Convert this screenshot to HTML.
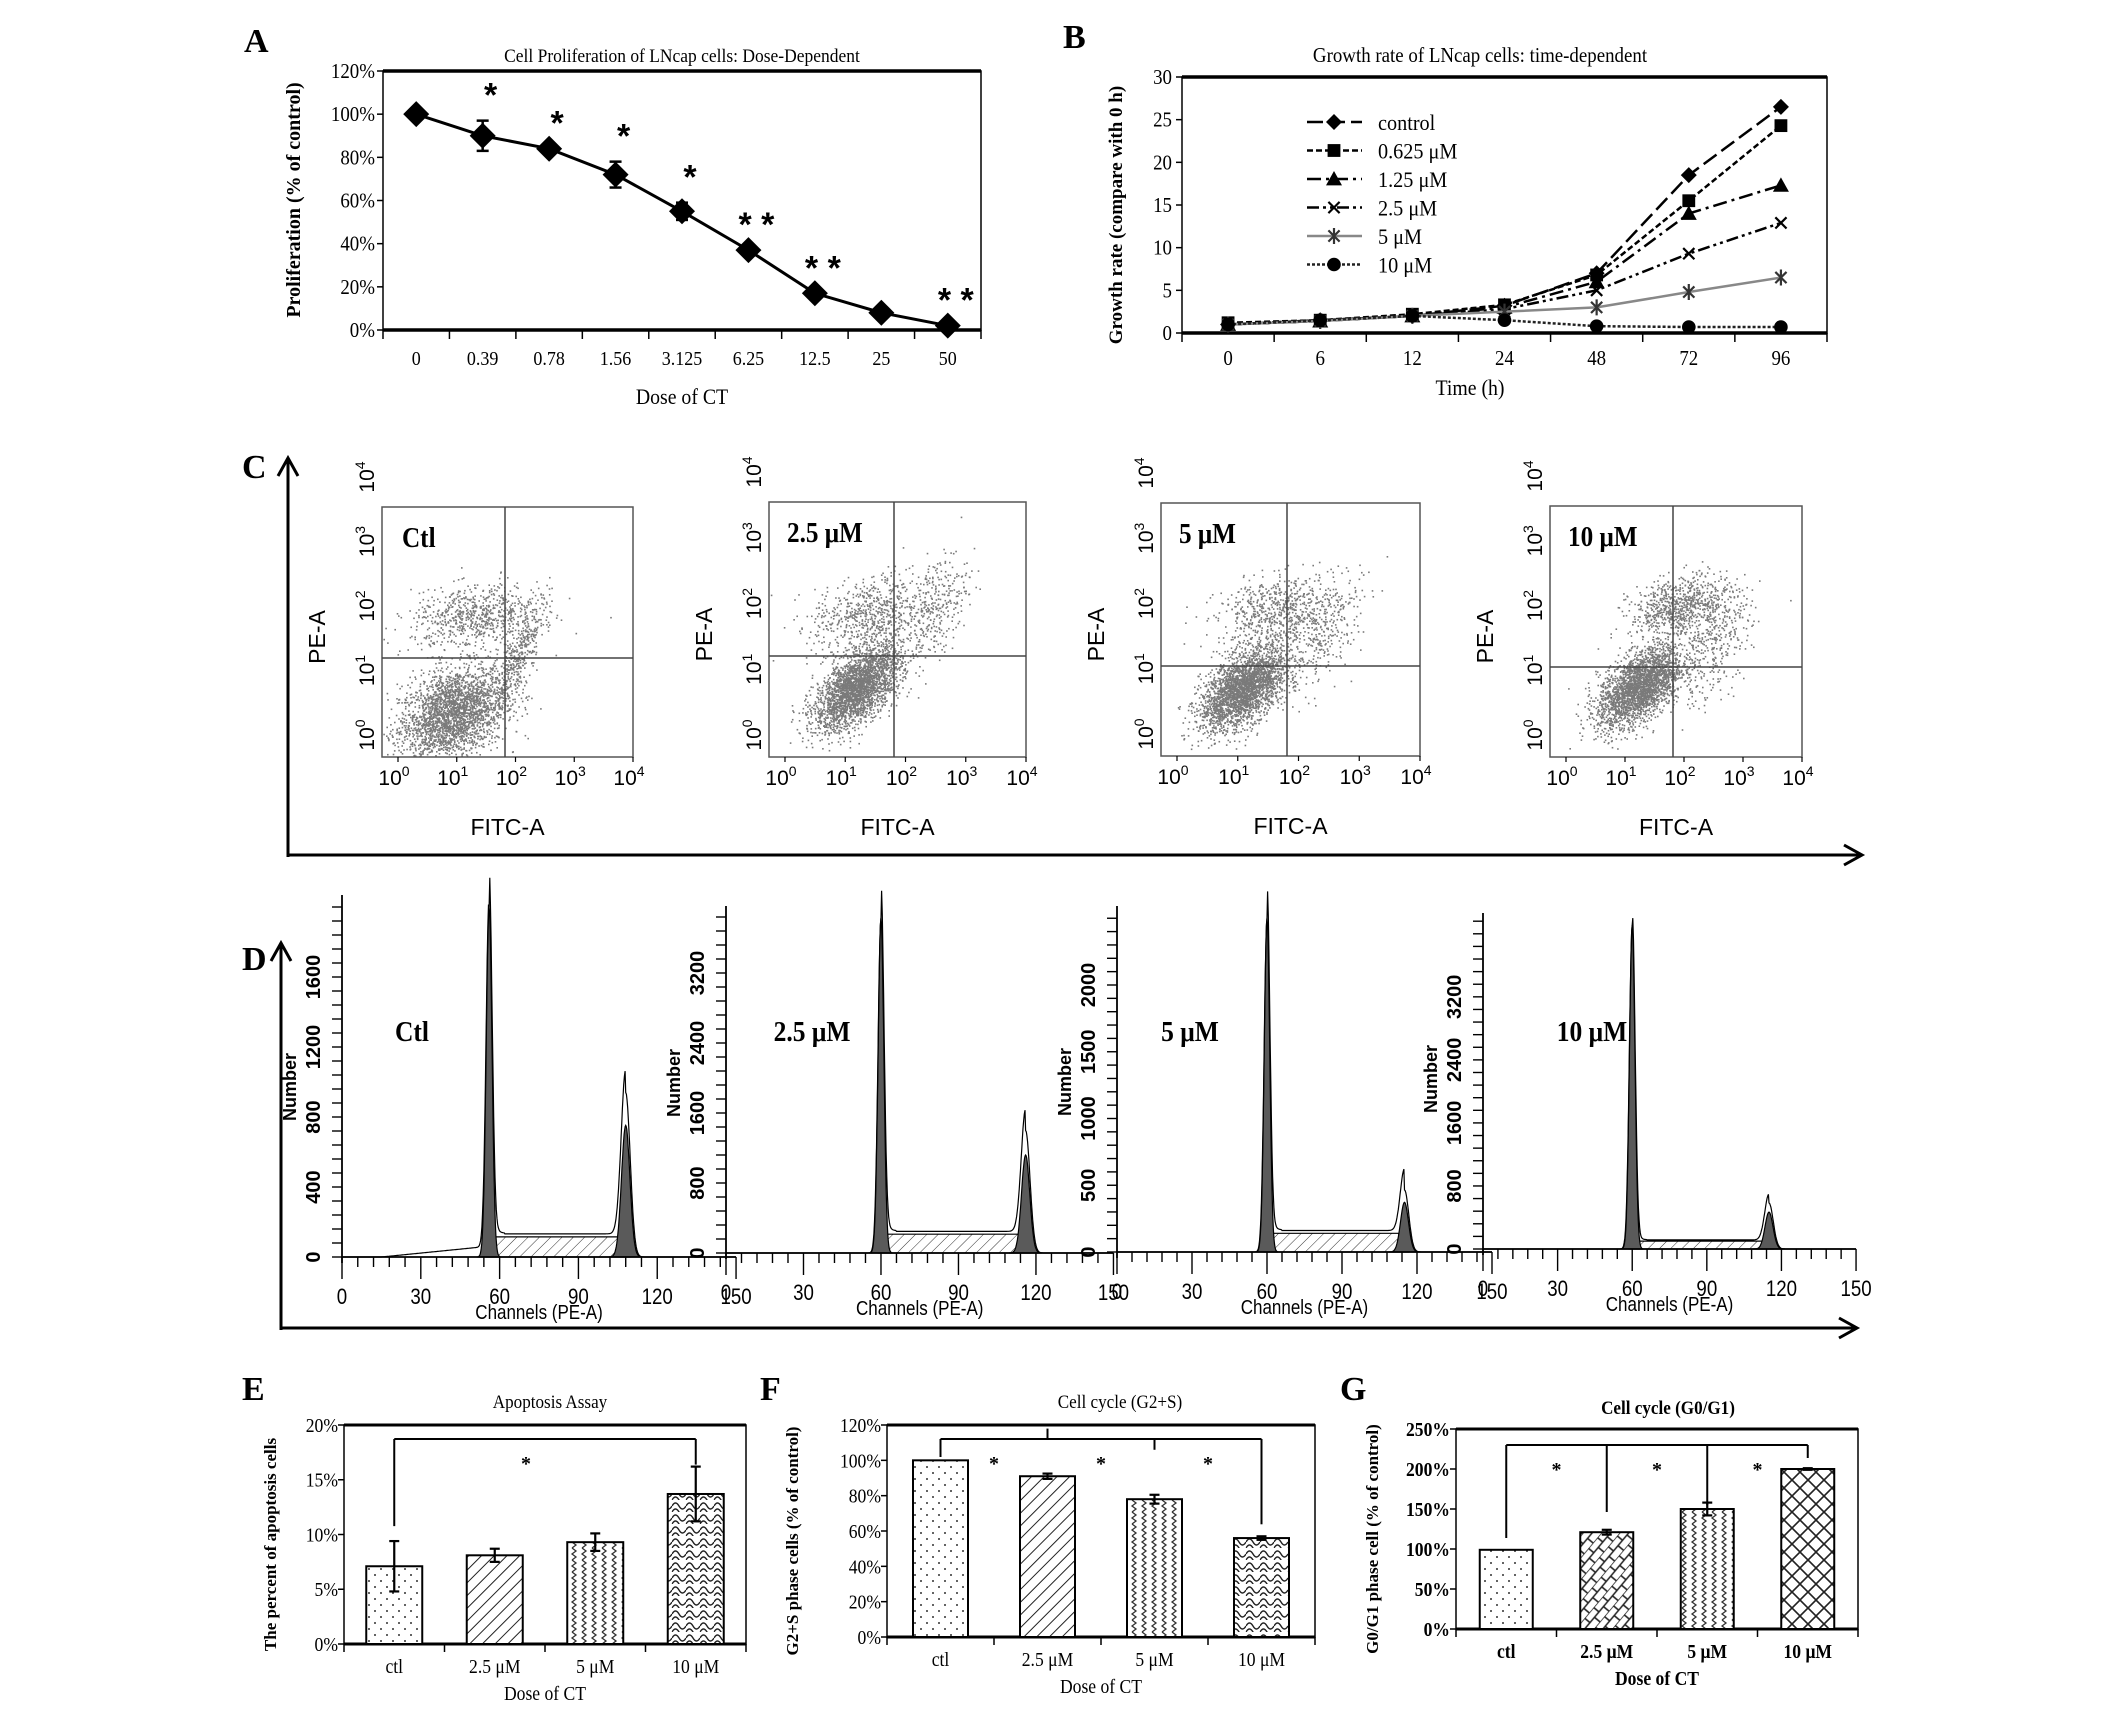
<!DOCTYPE html>
<html><head><meta charset="utf-8">
<style>
html,body{margin:0;padding:0;background:#fff;}
svg{display:block;}
</style></head>
<body>
<svg id="fig" xmlns="http://www.w3.org/2000/svg" width="2126" height="1720" viewBox="0 0 2126 1720">
<defs>
<pattern id="pDots" width="12" height="12" patternUnits="userSpaceOnUse"><rect width="12" height="12" fill="#fff"/><circle cx="3" cy="3" r="1" fill="#333"/><circle cx="9" cy="9" r="1" fill="#333"/></pattern>
<pattern id="pHatch" width="9" height="9" patternUnits="userSpaceOnUse" patternTransform="rotate(45)"><rect width="9" height="9" fill="#fff"/><line x1="0" y1="0" x2="0" y2="9" stroke="#222" stroke-width="2"/></pattern>
<pattern id="pWave" width="10" height="12" patternUnits="userSpaceOnUse"><rect width="10" height="12" fill="#fff"/><path d="M2 0 L6 3 L2 6 L6 9 L2 12" fill="none" stroke="#333" stroke-width="1.3"/></pattern>
<pattern id="pScale" width="14" height="12" patternUnits="userSpaceOnUse"><rect width="14" height="12" fill="#fff"/><path d="M0 6 Q3.5 0 7 6 T14 6 M0 12 Q3.5 6 7 12 T14 12" fill="none" stroke="#222" stroke-width="1.4"/></pattern>
<pattern id="pBrick" width="14" height="14" patternUnits="userSpaceOnUse" patternTransform="rotate(-50)"><rect width="14" height="14" fill="#fff"/><path d="M0 0 H14 M0 7 H14 M3 0 V7 M10 7 V14" stroke="#222" stroke-width="1.6"/></pattern>
<pattern id="pDiamond" width="16" height="16" patternUnits="userSpaceOnUse"><rect width="16" height="16" fill="#fff"/><path d="M0 8 L8 0 L16 8 L8 16 Z" fill="none" stroke="#222" stroke-width="1.6"/></pattern>
<pattern id="pSHatch" width="8" height="8" patternUnits="userSpaceOnUse" patternTransform="rotate(45)"><rect width="8" height="8" fill="#fff"/><line x1="0" y1="0" x2="0" y2="8" stroke="#333" stroke-width="1"/></pattern>
</defs>
</svg>
<script>
const NS='http://www.w3.org/2000/svg';
const svg=document.getElementById('fig');
const SERIF='"Liberation Serif", serif';
const SANS='"Liberation Sans", sans-serif';

/* ---------- Panel A data ---------- */
const aCats=['0','0.39','0.78','1.56','3.125','6.25','12.5','25','50'];
const aVals=[100,90,84,72,55,37,17,8,2];
const aErr=[0,7,0,6,4,0,0,0,0];
const aStars=['','*','*','*','*','**','**','','**'];
const aTicks=[0,20,40,60,80,100,120];

/* ---------- Panel B data ---------- */
const bCats=['0','6','12','24','48','72','96'];
const bSeriesNames=['control','0.625 μM','1.25 μM','2.5 μM','5 μM','10 μM'];
const bControl=[1,1.5,2,3.2,7,18.5,26.5];
const b0625=[1.2,1.5,2.2,3.3,6.8,15.5,24.3];
const b125=[1,1.4,2,3,6,14,17.3];
const b25=[1,1.4,2,2.8,5,9.3,12.9];
const b5=[1,1.4,2,2.5,3,4.8,6.5];
const b10=[1,1.5,2,1.5,0.8,0.7,0.7];
const bTicks=[0,5,10,15,20,25,30];

/* ---------- Panel C data (cluster centres in log decades) ---------- */
const cLabels=['Ctl','2.5 μM','5 μM','10 μM'];
const cCtl=[[0.85,0.35,0.42,0.38,2600,0.35],[1.2,1.9,0.5,0.25,700,0.2],[1.9,1.3,0.2,0.45,400,0.8]];
const c25=[[1.1,0.75,0.33,0.33,2700,0.6],[1.3,1.9,0.45,0.3,650,0.3],[2.3,2.0,0.25,0.45,300,0.5]];
const c5=[[1.0,0.72,0.33,0.32,2700,0.55],[1.5,1.95,0.45,0.28,650,0.3],[2.2,1.6,0.3,0.45,300,0.5]];
const c10=[[1.15,0.78,0.33,0.32,2600,0.55],[1.8,2.05,0.4,0.25,800,0.3],[2.3,1.4,0.3,0.45,300,0.5]];

/* ---------- Panel D data ---------- */
const dLabels=['Ctl','2.5 μM','5 μM','10 μM'];
const dG1Ch=[56,60,60,60];
const dG1Count=[2000,3830,2500,4110];
const dG2Ch=[108,116,115,115];
const dG2Count=[940,1400,465,585];
const dSCount=[115,215,140,100];
const dYTicks=[[0,400,800,1200,1600],[0,800,1600,2400,3200],[0,500,1000,1500,2000],[0,800,1600,2400,3200]];
const dXTicks=[0,30,60,90,120,150];

/* ---------- Panel E/F/G data ---------- */
const eCats=['ctl','2.5 μM','5 μM','10 μM'];
const eVals=[7.1,8.1,9.3,13.7];
const eErr=[2.3,0.6,0.8,2.5];
const eTicks=[0,5,10,15,20];
const fVals=[100,91,78,56];
const fErr=[0,1.5,2.5,1];
const fTicks=[0,20,40,60,80,100,120];
const gVals=[99,121,150,200];
const gErr=[0,3,8,1];
const gTicks=[0,50,100,150,200,250];

/* ---------- helpers ---------- */
function el(tag,attrs,name,parent){
  const e=document.createElementNS(NS,tag);
  for(const k in attrs) e.setAttribute(k,attrs[k]);
  
  
  (parent||svg).appendChild(e);
  return e;
}
function ln(x1,y1,x2,y2,w,name,extra){
  const a={x1:x1,y1:y1,x2:x2,y2:y2,stroke:'#000','stroke-width':w||1.5};
  if(extra) Object.assign(a,extra);
  return el('line',a,name);
}
function tx(x,y,s,size,name,opt){
  opt=opt||{};
  const a={x:x,y:y,'font-size':size,'font-family':opt.font||SERIF,'text-anchor':opt.anchor||'middle',fill:opt.fill||'#000'};
  if(opt.weight) a['font-weight']=opt.weight;
  if(opt.rot) a.transform='rotate('+opt.rot+' '+x+' '+y+')';
  if(opt.sx) a.transform=(a.transform||'')+' translate('+x+' '+y+') scale('+opt.sx+' 1) translate('+(-x)+' '+(-y)+')';
  const t=el('text',a,name);
  t.textContent=s;
  return t;
}
function marker(type,x,y,s,name,col){
  col=col||'#000';
  if(type==='diamond') return el('path',{d:`M${x} ${y-s}L${x+s} ${y}L${x} ${y+s}L${x-s} ${y}Z`,fill:col},name);
  if(type==='square') return el('rect',{x:x-s*0.8,y:y-s*0.8,width:s*1.6,height:s*1.6,fill:col},name);
  if(type==='triangle') return el('path',{d:`M${x} ${y-s}L${x+s} ${y+s*0.8}L${x-s} ${y+s*0.8}Z`,fill:col},name);
  if(type==='circle') return el('circle',{cx:x,cy:y,r:s*0.85,fill:col},name);
  if(type==='x') return el('path',{d:`M${x-s*0.7} ${y-s*0.7}L${x+s*0.7} ${y+s*0.7}M${x+s*0.7} ${y-s*0.7}L${x-s*0.7} ${y+s*0.7}`,stroke:col,'stroke-width':2.2,fill:'none'},name);
  if(type==='star') return el('path',{d:`M${x-s*0.7} ${y-s*0.7}L${x+s*0.7} ${y+s*0.7}M${x+s*0.7} ${y-s*0.7}L${x-s*0.7} ${y+s*0.7}M${x} ${y-s}L${x} ${y+s}`,stroke:col,'stroke-width':2.2,fill:'none'},name);
}

/* ---------- Panel labels ---------- */
[['A',244,52],['B',1063,48],['C',242,478],['D',242,970],['E',242,1400],['F',760,1400],['G',1340,1400]].forEach(p=>{
  tx(p[1],p[2],p[0],34,'panel-label-'+p[0].toLowerCase(),{weight:'bold',anchor:'start'});
});

/* ---------- Panel A ---------- */
(function(){
  const L=383,R=981,T=71,B=330;
  const bw=(R-L)/aCats.length;
  const xA=i=>L+bw*(i+0.5);
  const yA=v=>B-(v/120)*(B-T);
  el('rect',{x:L,y:T,width:R-L,height:B-T,fill:'none',stroke:'#000','stroke-width':1.5},'panel-a-plot-frame');
  ln(L,T,R,T,3.5,'panel-a-top-border');
  ln(L,B,R,B,3.5,'panel-a-x-axis');
  tx((L+R)/2,62,'Cell Proliferation of LNcap cells: Dose-Dependent',19,'panel-a-title',{sx:0.92});
  aTicks.forEach(v=>{
    ln(L-6,yA(v),L,yA(v),1.5,'panel-a-y-tick');
    tx(L-8,yA(v)+7,v+'%',21,'panel-a-y-tick-label',{anchor:'end',sx:0.9});
  });
  for(let k=0;k<=aCats.length;k++) ln(L+bw*k,B,L+bw*k,B+9,1.5,'panel-a-x-tick');
  aCats.forEach((c,i)=>tx(xA(i),365,c,20,'panel-a-x-tick-label',{sx:0.9}));
  tx((L+R)/2,404,'Dose of CT',22,'panel-a-x-axis-title',{sx:0.9});
  tx(300,200,'Proliferation (% of control)',20,'panel-a-y-axis-title',{rot:-90,weight:'bold'});
  const pts=aVals.map((v,i)=>xA(i)+','+yA(v)).join(' ');
  el('polyline',{points:pts,fill:'none',stroke:'#000','stroke-width':3},'panel-a-line');
  aVals.forEach((v,i)=>{
    if(aErr[i]>0){
      ln(xA(i),yA(v+aErr[i]),xA(i),yA(v-aErr[i]),2.5,'panel-a-error-bar');
      ln(xA(i)-6,yA(v+aErr[i]),xA(i)+6,yA(v+aErr[i]),2.5,'panel-a-error-cap');
      ln(xA(i)-6,yA(v-aErr[i]),xA(i)+6,yA(v-aErr[i]),2.5,'panel-a-error-cap');
    }
    marker('diamond',xA(i),yA(v),13,'panel-a-point');
    if(aStars[i]) tx(xA(i)+8,yA(v+aErr[i])-14,aStars[i].split('').join(' '),34,'panel-a-significance',{font:SANS,weight:'bold'});
  });
})();

/* ---------- Panel B ---------- */
(function(){
  const L=1182,R=1827,T=77,B=333;
  const bw=(R-L)/bCats.length;
  const xB=i=>L+bw*(i+0.5);
  const yB=v=>B-(v/30)*(B-T);
  el('rect',{x:L,y:T,width:R-L,height:B-T,fill:'none',stroke:'#000','stroke-width':1.5},'panel-b-plot-frame');
  ln(L,T,R,T,3.5,'panel-b-top-border');
  ln(L,B,R,B,3.5,'panel-b-x-axis');
  tx(1480,62,'Growth rate of LNcap cells:  time-dependent',21,'panel-b-title',{sx:0.9});
  bTicks.forEach(v=>{
    ln(L-6,yB(v),L,yB(v),1.5,'panel-b-y-tick');
    tx(L-10,yB(v)+7,String(v),21,'panel-b-y-tick-label',{anchor:'end',sx:0.9});
  });
  for(let k=0;k<=bCats.length;k++) ln(L+bw*k,B,L+bw*k,B+9,1.5,'panel-b-x-tick');
  bCats.forEach((c,i)=>tx(xB(i),365,c,21,'panel-b-x-tick-label',{sx:0.9}));
  tx(1470,395,'Time (h)',22,'panel-b-x-axis-title',{sx:0.9});
  tx(1122,215,'Growth rate (compare with 0 h)',19,'panel-b-y-axis-title',{rot:-90,weight:'bold'});
  const series=[bControl,b0625,b125,b25,b5,b10];
  const dashes=['16,6','6,3','14,5,3,5','12,4,3,4,3,4','none','3,2'];
  const cols=['#000','#000','#000','#000','#888','#222'];
  const marks=['diamond','square','triangle','x','star','circle'];
  series.forEach((s,si)=>{
    const a={points:s.map((v,i)=>xB(i)+','+yB(v)).join(' '),fill:'none',stroke:cols[si],'stroke-width':2.5};
    if(dashes[si]!=='none') a['stroke-dasharray']=dashes[si];
    el('polyline',a,'panel-b-line-'+si);
    s.forEach((v,i)=>marker(marks[si],xB(i),yB(v),8,'panel-b-point',si===4?'#333':'#000'));
    const ly=122+si*28.5;
    const la={x1:1307,y1:ly,x2:1362,y2:ly,stroke:cols[si],'stroke-width':2.5};
    if(dashes[si]!=='none') la['stroke-dasharray']=dashes[si];
    el('line',la,'panel-b-legend-line');
    marker(marks[si],1334,ly,8,'panel-b-legend-marker',si===4?'#333':'#000');
    tx(1378,ly+8,bSeriesNames[si],22,'panel-b-legend-label',{anchor:'start',sx:0.92});
  });
})();

/* ---------- Panel C ---------- */
let seed=12345;
function rnd(){seed=(seed*1103515245+12345)%2147483648;return seed/2147483648;}
function gauss(){let u=rnd()||1e-6,v=rnd();return Math.sqrt(-2*Math.log(u))*Math.cos(2*Math.PI*v);}
(function(){
  const boxes=[[382,633,507,757,505,658],[769,1026,502,757,894,656],[1161,1420,503,756,1287,666],[1550,1802,506,757,1673,667]];
  const clusters=[cCtl,c25,c5,c10];
  ln(288,460,288,857,3,'panel-c-vertical-arrow');
  el('path',{d:'M278 476 L288 458 L298 476',fill:'none',stroke:'#000','stroke-width':3},'panel-c-vertical-arrowhead');
  ln(288,855,1860,855,3,'panel-c-horizontal-arrow');
  el('path',{d:'M1844 845 L1862 855 L1844 865',fill:'none',stroke:'#000','stroke-width':3},'panel-c-horizontal-arrowhead');
  boxes.forEach((b,pi)=>{
    const [L,R,T,B,qx,qy]=b;
    const xd=d=>L+(d+0.25)/3.95*(R-L);
    const yd=d=>B-(d+0.35)/4.0*(B-T);
    const g=el('g',{},'panel-c-scatter-'+pi);
    clusters[pi].forEach(c=>{
      const [cx,cy,sx,sy,n,rho]=c;
      for(let k=0;k<n;k++){
        const z1=gauss(),z2=gauss();
        const dx=cx+sx*z1, dy=cy+sy*(rho*z1+Math.sqrt(1-rho*rho)*z2);
        const px=xd(dx),py=yd(dy);
        if(px<L+1||px>R-1||py<T+1||py>B-1) continue;
        const r=document.createElementNS(NS,'rect');
        r.setAttribute('x',px.toFixed(1));r.setAttribute('y',py.toFixed(1));
        r.setAttribute('width',1.6);r.setAttribute('height',1.6);r.setAttribute('fill','#7a7a7a');
        g.appendChild(r);
      }
    });
    el('rect',{x:L,y:T,width:R-L,height:B-T,fill:'none',stroke:'#555','stroke-width':1.5},'panel-c-plot-frame');
    ln(qx,T,qx,B,1.5,'panel-c-quadrant-vertical',{stroke:'#444'});
    ln(L,qy,R,qy,1.5,'panel-c-quadrant-horizontal',{stroke:'#444'});
    tx(L+(pi===0?20:18),T+40,cLabels[pi],28,'panel-c-condition-label',{anchor:'start',weight:'bold',sx:0.9});
    for(let d=0;d<=4;d++){
      const x=L+16+d*(R-L-16)/4;
      const t=tx(x-4,B+28,'10',21,'panel-c-x-tick-label',{font:SANS});
      const s=document.createElementNS(NS,'tspan');s.setAttribute('dy','-9');s.setAttribute('font-size','14');s.textContent=String(d);t.appendChild(s);
      ln(x,B,x,B+5,1.2,'panel-c-x-tick');
      const y=B-22-d*(B-T+8)/4;
      const t2=tx(L-8,y,'10',21,'panel-c-y-tick-label',{font:SANS,rot:-90});
      const s2=document.createElementNS(NS,'tspan');s2.setAttribute('dy','-9');s2.setAttribute('font-size','14');s2.textContent=String(d);t2.appendChild(s2);
    }
    tx((L+R)/2,B+78,'FITC-A',23,'panel-c-x-axis-title',{font:SANS});
    tx(L-57,(T+B)/2+5,'PE-A',23,'panel-c-y-axis-title',{font:SANS,rot:-90});
  });
})();

/* ---------- Panel D ---------- */
(function(){
  const axes=[[342,2.627,1257,0.175,907],[726,2.583,1253,0.0875,918],[1117,2.5,1252,0.1335,918],[1483,2.487,1249,0.0788,925]];
  const labelX=[412,812,1190,1592];
  ln(281,945,281,1330,3,'panel-d-vertical-arrow');
  el('path',{d:'M271 961 L281 943 L291 961',fill:'none',stroke:'#000','stroke-width':3},'panel-d-vertical-arrowhead');
  ln(281,1328,1855,1328,3,'panel-d-horizontal-arrow');
  el('path',{d:'M1839 1318 L1857 1328 L1839 1338',fill:'none',stroke:'#000','stroke-width':3},'panel-d-horizontal-arrowhead');
  axes.forEach((a,pi)=>{
    const [x0,pc,base,pcnt]=a;
    const xc=c=>x0+c*pc;
    const yc=n=>base-n*pcnt;
    const g1=dG1Ch[pi],g2=dG2Ch[pi];
    el('path',{d:`M${xc(g1-1)} ${base}L${xc(g1+1)} ${yc(dSCount[pi])}L${xc(g2-2.5)} ${yc(dSCount[pi])}L${xc(g2+1.5)} ${base}Z`,fill:'url(#pSHatch)',stroke:'#000','stroke-width':1.2},'panel-d-s-phase-'+pi);
    const peak=(mu,h,sd,nm)=>{
      let d=`M${xc(mu-4*sd)} ${base}`;
      for(let c=mu-4*sd;c<=mu+4*sd;c+=0.2) d+=`L${xc(c).toFixed(1)} ${yc(h*Math.exp(-0.5*((c-mu)/sd)**2)).toFixed(1)}`;
      d+=`L${xc(mu+4*sd)} ${base}Z`;
      el('path',{d:d,fill:'#5a5a5a',stroke:'#000','stroke-width':1.2},nm);
    };
    peak(g1,dG1Count[pi],1.1,'panel-d-g1-peak-'+pi);
    peak(g2,dG2Count[pi]*0.8,1.6,'panel-d-g2-peak-'+pi);
    let d=`M${xc(0)} ${base}`;
    for(let c=0;c<=150;c+=0.25){
      let n=dG1Count[pi]*Math.exp(-0.5*((c-g1)/1.15)**2)+dG2Count[pi]*Math.exp(-0.5*((c-g2)/1.7)**2);
      if(c>g1&&c<g2) n+=dSCount[pi]*1.15+ (c<g1+6? dSCount[pi]*0.8*Math.exp(-(c-g1)/2):0);
      if(pi===0&&c>15&&c<g1) n+=(c-15)*1.5;
      d+=`L${xc(c).toFixed(1)} ${yc(n).toFixed(1)}`;
    }
    el('path',{d:d,fill:'none',stroke:'#000','stroke-width':1.2},'panel-d-histogram-outline-'+pi);
    ln(x0,base,xc(150),base,1.8,'panel-d-x-axis');
    ln(x0,a[4]-12,x0,base+6,1.8,'panel-d-y-axis');
    for(let c=0;c<=150;c+=6) ln(xc(c),base,xc(c),base+(c%30===0?22:10),1.4,'panel-d-x-tick');
    dXTicks.forEach(c=>tx(xc(c),base+47,String(c),22,'panel-d-x-tick-label',{font:SANS,sx:0.85}));
    tx(xc(75),base+62,'Channels (PE-A)',20,'panel-d-x-axis-title',{font:SANS,sx:0.85});
    const yt=dYTicks[pi],step=yt[1]-yt[0];
    for(let n=0;base-n*pcnt>=a[4]-10;n+=step/5) ln(x0-10,yc(n),x0,yc(n),1.4,'panel-d-y-minor-tick');
    yt.forEach(n=>tx(x0-22,yc(n),String(n),20,'panel-d-y-tick-label',{font:SANS,weight:'bold',rot:-90}));
    tx(x0-46,base-170,'Number',18,'panel-d-y-axis-title',{font:SANS,weight:'bold',rot:-90});
    tx(labelX[pi],1041,dLabels[pi],29,'panel-d-condition-label',{weight:'bold',sx:0.88,anchor:'middle'});
  });
})();

/* ---------- Bar chart helper for E/F/G ---------- */
function barChart(o){
  const {L,R,T,B,vals,err,ticks,max,pats,pfx,title,titleY,titleX,yTitle,yTitleX,bw}=o;
  const cw=(R-L)/vals.length;
  const xc=i=>L+cw*(i+0.5);
  const yv=v=>B-v/max*(B-T);
  el('rect',{x:L,y:T,width:R-L,height:B-T,fill:'none',stroke:'#000','stroke-width':1.5},pfx+'-plot-frame');
  ln(L,T,R,T,3,pfx+'-top-border');
  ln(L,B,R,B,3,pfx+'-x-axis');
  tx(titleX,titleY,title,19,pfx+'-title',{sx:0.9,weight:o.boldTitle?'bold':null});
  ticks.forEach(v=>{
    ln(L-6,yv(v),L,yv(v),1.5,pfx+'-y-tick');
    tx(L-6,yv(v)+7,v+'%',20,pfx+'-y-tick-label',{anchor:'end',sx:0.88,weight:o.boldTick?'bold':null});
  });
  for(let k=0;k<=vals.length;k++) ln(L+cw*k,B,L+cw*k,B+8,1.5,pfx+'-x-tick');
  eCats.forEach((c,i)=>tx(xc(i),B+29,c,20,pfx+'-x-tick-label',{sx:0.88,weight:o.boldTick?'bold':null}));
  tx((L+R)/2,B+56,'Dose of CT',20,pfx+'-x-axis-title',{sx:0.88,weight:o.boldTick?'bold':null});
  tx(yTitleX,(T+B)/2+10,yTitle,17,pfx+'-y-axis-title',{rot:-90,weight:'bold'});
  vals.forEach((v,i)=>{
    el('rect',{x:xc(i)-bw/2,y:yv(v),width:bw,height:B-yv(v),fill:'url(#'+pats[i]+')',stroke:'#000','stroke-width':2},pfx+'-bar-'+i);
    if(err[i]>0){
      ln(xc(i),yv(v+err[i]),xc(i),yv(Math.max(0,v-err[i])),2.2,pfx+'-error-bar');
      ln(xc(i)-5,yv(v+err[i]),xc(i)+5,yv(v+err[i]),2.2,pfx+'-error-cap');
      ln(xc(i)-5,yv(v-err[i]),xc(i)+5,yv(v-err[i]),2.2,pfx+'-error-cap');
    }
  });
  return {xc,yv};
}

/* ---------- Panel E ---------- */
(function(){
  const r=barChart({L:344,R:746,T:1425,B:1644,vals:eVals,err:eErr,ticks:eTicks,max:20,pats:['pDots','pHatch','pWave','pScale'],pfx:'panel-e',title:'Apoptosis Assay',titleX:550,titleY:1408,yTitle:'The percent of apoptosis cells',yTitleX:276,bw:56});
  const y=1439;
  ln(r.xc(0),y,r.xc(3),y,2,'panel-e-significance-bracket');
  ln(r.xc(0),y,r.xc(0),r.yv(eVals[0]+eErr[0])-15,2,'panel-e-bracket-leg');
  ln(r.xc(3),y,r.xc(3),r.yv(eVals[3]+eErr[3])-2,2,'panel-e-bracket-leg');
  tx(526,1470,'*',20,'panel-e-significance-star',{weight:'bold'});
})();

/* ---------- Panel F ---------- */
(function(){
  const r=barChart({L:887,R:1315,T:1425,B:1637,vals:fVals,err:fErr,ticks:fTicks,max:120,pats:['pDots','pHatch','pWave','pScale'],pfx:'panel-f',title:'Cell cycle (G2+S)',titleX:1120,titleY:1408,yTitle:'G2+S phase cells (% of control)',yTitleX:798,bw:55});
  const y=1439;
  ln(r.xc(0),y,r.xc(3),y,2,'panel-f-significance-bracket');
  [0,1,2,3].forEach(i=>ln(r.xc(i),y,r.xc(i),i===0?y+18:r.yv(fVals[i]+fErr[i])-(i===3?12:45),2,'panel-f-bracket-leg'));
  [0,1,2].forEach(i=>tx((r.xc(i)+r.xc(i+1))/2,1470,'*',20,'panel-f-significance-star',{weight:'bold'}));
})();

/* ---------- Panel G ---------- */
(function(){
  const r=barChart({L:1456,R:1858,T:1429,B:1629,vals:gVals,err:gErr,ticks:gTicks,max:250,pats:['pDots','pBrick','pWave','pDiamond'],pfx:'panel-g',title:'Cell cycle (G0/G1)',titleX:1668,titleY:1414,yTitle:'G0/G1 phase cell (% of control)',yTitleX:1378,bw:53,boldTick:true,boldTitle:true});
  const y=1445;
  ln(r.xc(0),y,r.xc(3),y,2,'panel-g-significance-bracket');
  const ends=[1538,1512,1505,1458];
  [0,1,2,3].forEach(i=>ln(r.xc(i),y,r.xc(i),ends[i],2,'panel-g-bracket-leg'));
  [0,1,2].forEach(i=>tx((r.xc(i)+r.xc(i+1))/2,1476,'*',20,'panel-g-significance-star',{weight:'bold'}));
})();
</script>
</body></html>
